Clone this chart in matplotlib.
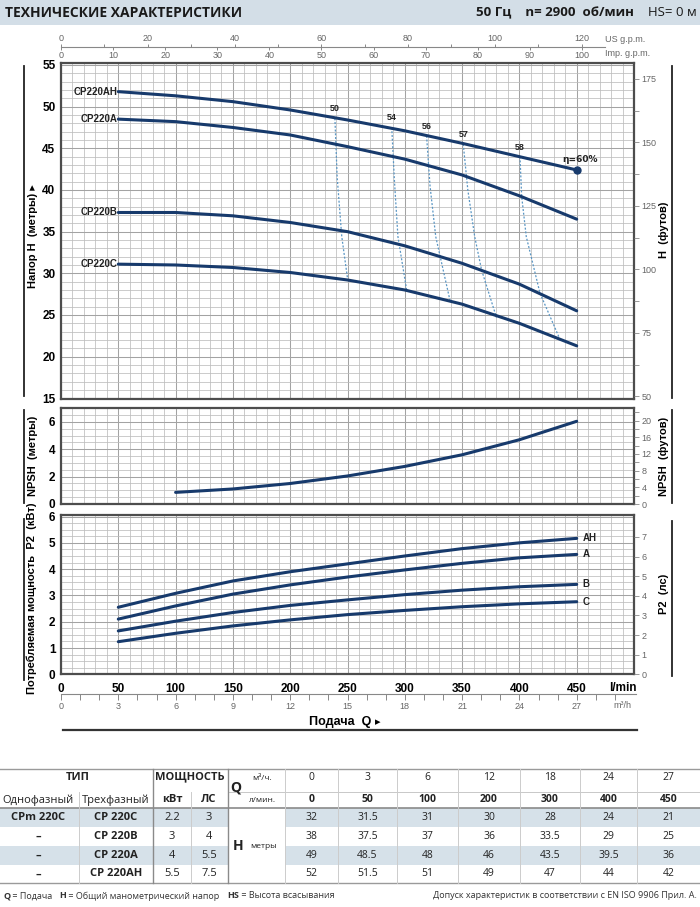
import numpy as np
import matplotlib
matplotlib.use('Agg')
import matplotlib.pyplot as plt
from matplotlib.patches import Rectangle
from matplotlib.ticker import MultipleLocator

#Setting fonts
narrow = ['Liberation Sans Narrow', 'Liberation Sans', 'DejaVu Sans']
arial = ['Liberation Sans', 'DejaVu Sans']
humanist = ['Open Sans', 'DejaVu Sans']
plt.rcParams['font.family'] = narrow

#Colours
curve_col = '#173a6c'
eff_col = '#5a96c4'
minor_col = '#bdbdbd'
major_col = '#a3a3a3'
frame_col = '#4d4d4d'
band_col = '#d3dee7'
shade_col = '#d6e1e9'

#==============================================================================
#Data (Q in l/min)
#==============================================================================
Q = [50, 100, 150, 200, 250, 300, 350, 400, 450]
H_AH = [51.8, 51.3, 50.6, 49.6, 48.4, 47.1, 45.6, 44.0, 42.4]
H_A = [48.5, 48.2, 47.5, 46.6, 45.2, 43.7, 41.8, 39.3, 36.5]
H_B = [37.3, 37.3, 36.9, 36.1, 35.0, 33.3, 31.2, 28.7, 25.5]
H_C = [31.1, 31.0, 30.7, 30.1, 29.2, 28.0, 26.3, 24.0, 21.3]
head_names = ['CP220AH', 'CP220A', 'CP220B', 'CP220C']

P_AH = [2.55, 3.08, 3.55, 3.90, 4.20, 4.50, 4.78, 5.00, 5.17]
P_A = [2.10, 2.60, 3.05, 3.40, 3.70, 3.97, 4.22, 4.43, 4.56]
P_B = [1.65, 2.02, 2.35, 2.62, 2.83, 3.03, 3.20, 3.33, 3.42]
P_C = [1.24, 1.56, 1.84, 2.07, 2.27, 2.43, 2.57, 2.68, 2.76]
power_names = ['AH', 'A', 'B', 'C']

Q_npsh = [100, 150, 200, 250, 300, 350, 400, 450]
NPSH = [0.85, 1.10, 1.50, 2.05, 2.75, 3.60, 4.70, 6.05]

#Iso-efficiency lines, from the AH curve down to the C curve
eff_labels = ['50', '54', '56', '57', '58']
eff_Q = [[239, 241, 245, 250],
         [288.6, 291, 294, 301.6],
         [319, 322, 327, 339.5],
         [351, 355, 361, 367, 380],
         [400.5, 402, 406, 418, 435]]
eff_H = [[48.6, 41.5, 34.4, 29.4],
         [47.5, 41.0, 34.4, 28.0],
         [46.5, 40.5, 34.4, 26.7],
         [45.5, 40.0, 34.4, 30.4, 24.7],
         [44.0, 39.2, 34.4, 27.6, 22.2]]
eta_label = 'η=60%'

#Table values
tbl_single = ['CPm 220C', '–', '–', '–']
tbl_three = ['CP 220C', 'CP 220B', 'CP 220A', 'CP 220AH']
tbl_kw = ['2.2', '3', '4', '5.5']
tbl_hp = ['3', '4', '5.5', '7.5']
tbl_m3h = ['0', '3', '6', '12', '18', '24', '27']
tbl_lmin = ['0', '50', '100', '200', '300', '400', '450']
tbl_H = [['32', '31.5', '31', '30', '28', '24', '21'],
         ['38', '37.5', '37', '36', '33.5', '29', '25'],
         ['49', '48.5', '48', '46', '43.5', '39.5', '36'],
         ['52', '51.5', '51', '49', '47', '44', '42']]

#Unit conversions
M_TO_FT = 3.2808
KW_TO_HP = 1 / 0.746
LMIN_PER_M3H = 1000 / 60.
LMIN_PER_USGPM = 3.78541
LMIN_PER_IMPGPM = 4.54609

W, Hpx = 700, 907
fig = plt.figure(figsize=(7, 9.07), dpi=100, facecolor='w')

def box(l, t, r, b):
    return [l / W, 1 - b / Hpx, (r - l) / W, (b - t) / Hpx]

#Overlay in pixel coordinates for header, side labels and table
ov = fig.add_axes([0, 0, 1, 1])
ov.set_xlim(0, W)
ov.set_ylim(Hpx, 0)
ov.axis('off')

def panel(top, bottom, ylim, yticks, yminor):
    ax = fig.add_axes(box(61, top, 634, bottom))
    ax.set_xlim(0, 500)
    ax.set_ylim(*ylim)
    ax.xaxis.set_major_locator(MultipleLocator(50))
    ax.xaxis.set_minor_locator(MultipleLocator(10))
    ax.set_yticks(yticks)
    ax.yaxis.set_minor_locator(MultipleLocator(yminor))
    ax.grid(which='minor', color=minor_col, lw=0.55)
    ax.grid(which='major', color=major_col, lw=0.75)
    ax.set_axisbelow(True)
    ax.tick_params(which='both', length=0, labelbottom=False)
    ax.set_yticklabels([str(v) for v in yticks], fontsize=8.5, fontweight='bold', family=arial)
    ax.tick_params(axis='y', pad=4)
    for s in ax.spines.values():
        s.set_color(frame_col)
        s.set_linewidth(1.6)
    return ax

def right_axis(ax, factor, ticks, minor):
    r = ax.twinx()
    lo, hi = ax.get_ylim()
    r.set_ylim(lo * factor, hi * factor)
    r.set_yticks(ticks)
    r.set_yticks(minor, minor=True)
    r.set_yticklabels([str(v) for v in ticks])
    r.tick_params(which='both', direction='out', length=3.5, width=0.6, color='#888888',
                  labelsize=6.5, labelcolor='#666666', pad=2)
    for s in r.spines.values():
        s.set_visible(False)
    return r

#==============================================================================
#Head curves
#==============================================================================
ax1 = panel(63.3, 399, (14.92, 55.2), list(range(15, 56, 5)), 1)
right_axis(ax1, M_TO_FT, [50, 75, 100, 125, 150, 175], np.arange(50, 181, 12.5))
for H, name in zip([H_AH, H_A, H_B, H_C], head_names):
    ax1.plot(Q, H, color=curve_col, lw=2.2, solid_capstyle='round', zorder=5)
    ax1.text(49, H[0], name, ha='right', va='center', fontsize=7, fontweight='bold', color='#222222')
for lab, eq, eh in zip(eff_labels, eff_Q, eff_H):
    ax1.plot(eq, eh, color=eff_col, lw=0.9, ls=(0, (1.6, 1.4)), zorder=4)
    ax1.text(eq[0], eh[0] + 0.6, lab, ha='center', va='bottom', fontsize=6.5, fontweight='bold', color='#222222')
ax1.plot(Q[-1], H_AH[-1], 'o', color=curve_col, ms=5, zorder=6)
ax1.text(453, H_AH[-1] + 0.7, eta_label, ha='center', va='bottom', fontsize=6.5, fontweight='bold',
         color='#222222', family=['DejaVu Sans'])

#==============================================================================
#NPSH
#==============================================================================
ax2 = panel(408.3, 504, (0, 7.0), [0, 2, 4, 6], 0.5)
right_axis(ax2, M_TO_FT, [0, 4, 8, 12, 16, 20], np.arange(0, 23, 2))
ax2.plot(Q_npsh, NPSH, color=curve_col, lw=2.2, solid_capstyle='round', zorder=5)

#==============================================================================
#Power
#==============================================================================
ax3 = panel(514.7, 674.3, (0, 6.07), [0, 1, 2, 3, 4, 5, 6], 0.25)
right_axis(ax3, KW_TO_HP, [0, 1, 2, 3, 4, 5, 6, 7], [])
for P, name in zip([P_AH, P_A, P_B, P_C], power_names):
    ax3.plot(Q, P, color=curve_col, lw=2.2, solid_capstyle='round', zorder=5)
    ax3.text(455, P[-1], name, ha='left', va='center', fontsize=7, fontweight='bold', color='#222222')
ax3.set_xticks(np.arange(0, 451, 50))
ax3.tick_params(axis='x', labelbottom=True, pad=6)
ax3.set_xticklabels([str(v) for v in range(0, 451, 50)], fontsize=8.5, fontweight='bold')

#m3/h scale
ax4 = fig.add_axes(box(61, 693.5, 634, 694))
ax4.set_xlim(0, 500)
ax4.set_ylim(0, 1)
m3 = np.arange(0, 30)
ax4.set_xticks(m3[::3] * LMIN_PER_M3H)
ax4.set_xticklabels([str(v) for v in m3[::3]], fontsize=6.5, color='#666666')
ax4.set_xticks(m3 * LMIN_PER_M3H, minor=True)
ax4.tick_params(which='both', direction='out', length=4, width=0.7, color='#888888', pad=2)
ax4.set_yticks([])
for k in ['top', 'left', 'right']:
    ax4.spines[k].set_visible(False)
ax4.spines['bottom'].set_color('#888888')
ax4.spines['bottom'].set_bounds(0, 502)
ax4.patch.set_visible(False)

#gpm scales on top
ax5 = fig.add_axes(box(61, 46.8, 634, 47.2))
ax5.set_xlim(0, 500)
ax5.set_ylim(0, 1)
imp = np.arange(0, 101, 10)
ax5.set_xticks(imp * LMIN_PER_IMPGPM)
ax5.set_xticklabels([str(v) for v in imp], fontsize=6.5, color='#666666')
ax5.tick_params(direction='out', length=2, width=0.7, color='#888888', pad=0.5)
ax5.set_yticks([])
for k in ['top', 'left', 'right']:
    ax5.spines[k].set_visible(False)
ax5.spines['bottom'].set_color('#888888')
ax5.spines['bottom'].set_bounds(0, 475)
ax5.patch.set_visible(False)
ax6 = ax5.twiny()
ax6.set_xlim(0, 500)
us = np.arange(0, 121, 20)
ax6.set_xticks(us * LMIN_PER_USGPM)
ax6.set_xticklabels([str(v) for v in us], fontsize=6.5, color='#666666')
ax6.set_xticks(np.arange(0, 121, 10) * LMIN_PER_USGPM, minor=True)
ax6.tick_params(which='both', direction='out', length=2, width=0.7, color='#888888', pad=0.5)
for s in ax6.spines.values():
    s.set_visible(False)
ax6.patch.set_visible(False)
ov.text(605, 40, 'US g.p.m.', ha='left', va='center', fontsize=6.5, color='#666666')
ov.text(605, 54, 'Imp. g.p.m.', ha='left', va='center', fontsize=6.5, color='#666666')

#Bottom captions
ov.text(637, 688, 'l/min', ha='right', va='center', fontsize=8.5, fontweight='bold')
ov.text(622, 706, 'm³/h', ha='center', va='center', fontsize=6.5, color='#666666')
ov.text(340, 722, 'Подача  Q', ha='center', va='center', fontsize=9, fontweight='bold')
ov.text(378, 722, '▸', ha='center', va='center', fontsize=8, family=['DejaVu Sans'])
ov.plot([63, 637], [730, 730], color='#333333', lw=1.6)

#Side captions
ov.plot([24, 24], [66, 396], color='#222222', lw=1.3)
ov.plot([24, 24], [410, 503], color='#222222', lw=1.3)
ov.plot([24, 24], [519, 680], color='#222222', lw=1.3)
ov.plot([672, 672], [66, 398], color='#222222', lw=1.3)
ov.plot([672, 672], [410, 503], color='#222222', lw=1.3)
ov.plot([672, 672], [521, 676], color='#222222', lw=1.3)
side = dict(rotation=90, ha='center', va='center', fontsize=8, fontweight='bold', family=arial)
ov.text(33, 236, 'Напор H  (метры) ▸', **side)
ov.text(33, 456, 'NPSH  (метры)', **side)
ov.text(32, 598, 'Потребляемая мощность  P2  (кВт)', **side)
ov.text(664, 230, 'H  (футов)', **side)
ov.text(664, 456, 'NPSH  (футов)', **side)
ov.text(664, 594, 'P2  (лс)', **side)

#Header band
ov.add_patch(Rectangle((0, 0), W, 25, color=band_col, lw=0))
ov.text(5, 13, 'ТЕХНИЧЕСКИЕ ХАРАКТЕРИСТИКИ', ha='left', va='center', fontsize=10,
        fontweight='bold', family=humanist, color='#1a1a1a')
ov.text(634, 13, '50 Гц    n= 2900  об/мин', ha='right', va='center', fontsize=9.5,
        fontweight='bold', family=humanist, color='#1a1a1a')
ov.text(697, 13, 'HS= 0 м', ha='right', va='center', fontsize=9.5, family=humanist, color='#1a1a1a')

#==============================================================================
#Table
#==============================================================================
col_x = [285, 338, 397, 458, 520, 580, 637, 700]
row_y = [808, 827, 846, 865, 883]
tfont = dict(family=humanist, ha='center', va='center', color='#222222')
for i in [0, 2]:
    ov.add_patch(Rectangle((0, row_y[i]), 228, row_y[i + 1] - row_y[i], color=shade_col, lw=0))
    ov.add_patch(Rectangle((285, row_y[i]), 415, row_y[i + 1] - row_y[i], color=shade_col, lw=0))
ov.plot([0, 700], [769, 769], color='#9a9a9a', lw=1.0)
ov.plot([228, 700], [792, 792], color='#c8c8c8', lw=0.7)
ov.plot([0, 700], [808, 808], color='#8a8a8a', lw=1.2)
ov.plot([0, 700], [883, 883], color='#9a9a9a', lw=1.0)
for x in [79] + col_x[:-1]:
    top = 792 if x == 79 else 769
    ov.plot([x, x], [top, 883], color='#cccccc', lw=0.7)
for x in [153, 228]:
    ov.plot([x, x], [769, 883], color='#8a8a8a', lw=1.0)
ov.plot([191, 191], [792, 883], color='#cccccc', lw=0.7)

ov.text(78, 777, 'ТИП', fontsize=8, fontweight='bold', **tfont)
ov.text(190, 777, 'МОЩНОСТЬ', fontsize=8, fontweight='bold', **tfont)
ov.text(38, 800, 'Однофазный', fontsize=8, **tfont)
ov.text(116, 800, 'Трехфазный', fontsize=8, **tfont)
ov.text(172, 800, 'кВт', fontsize=8, fontweight='bold', **tfont)
ov.text(209, 800, 'ЛС', fontsize=8, fontweight='bold', **tfont)
ov.text(236, 788, 'Q', fontsize=10, fontweight='bold', **tfont)
ov.text(262, 778, 'м³/ч.', fontsize=6, **tfont)
ov.text(263, 800, 'л/мин.', fontsize=6, **tfont)
for j in range(7):
    cx = (col_x[j] + col_x[j + 1]) / 2
    ov.text(cx, 778, tbl_m3h[j], fontsize=7.5, **tfont)
    ov.text(cx, 800, tbl_lmin[j], fontsize=7.5, fontweight='bold', **tfont)
for i in range(4):
    cy = (row_y[i] + row_y[i + 1]) / 2
    ov.text(38, cy, tbl_single[i], fontsize=8, fontweight='bold', **tfont)
    ov.text(116, cy, tbl_three[i], fontsize=8, fontweight='bold', **tfont)
    ov.text(172, cy, tbl_kw[i], fontsize=8, **tfont)
    ov.text(209, cy, tbl_hp[i], fontsize=8, **tfont)
    for j in range(7):
        cx = (col_x[j] + col_x[j + 1]) / 2
        ov.text(cx, cy, tbl_H[i][j], fontsize=7.5, **tfont)
ov.text(238, 846, 'H', fontsize=10, fontweight='bold', **tfont)
ov.text(264, 847, 'метры', fontsize=6, **tfont)

#Footnotes
fn = dict(family=humanist, fontsize=6.5, va='center', color='#333333')
t = ov.text(3, 896, 'Q', fontweight='bold', ha='left', **fn)
for piece, bold in [(' = Подача   ', False), ('H', True), (' = Общий манометрический напор   ', False),
                    ('HS', True), (' = Высота всасывания', False)]:
    t = ov.annotate(piece, xy=(1, 0.5), xycoords=t, ha='left', fontweight='bold' if bold else 'normal', **fn)
ov.text(697, 896, 'Допуск характеристик в соответствии с EN ISO 9906 Прил. А.', ha='right', **fn)

fig.savefig('out.png', dpi=100)
